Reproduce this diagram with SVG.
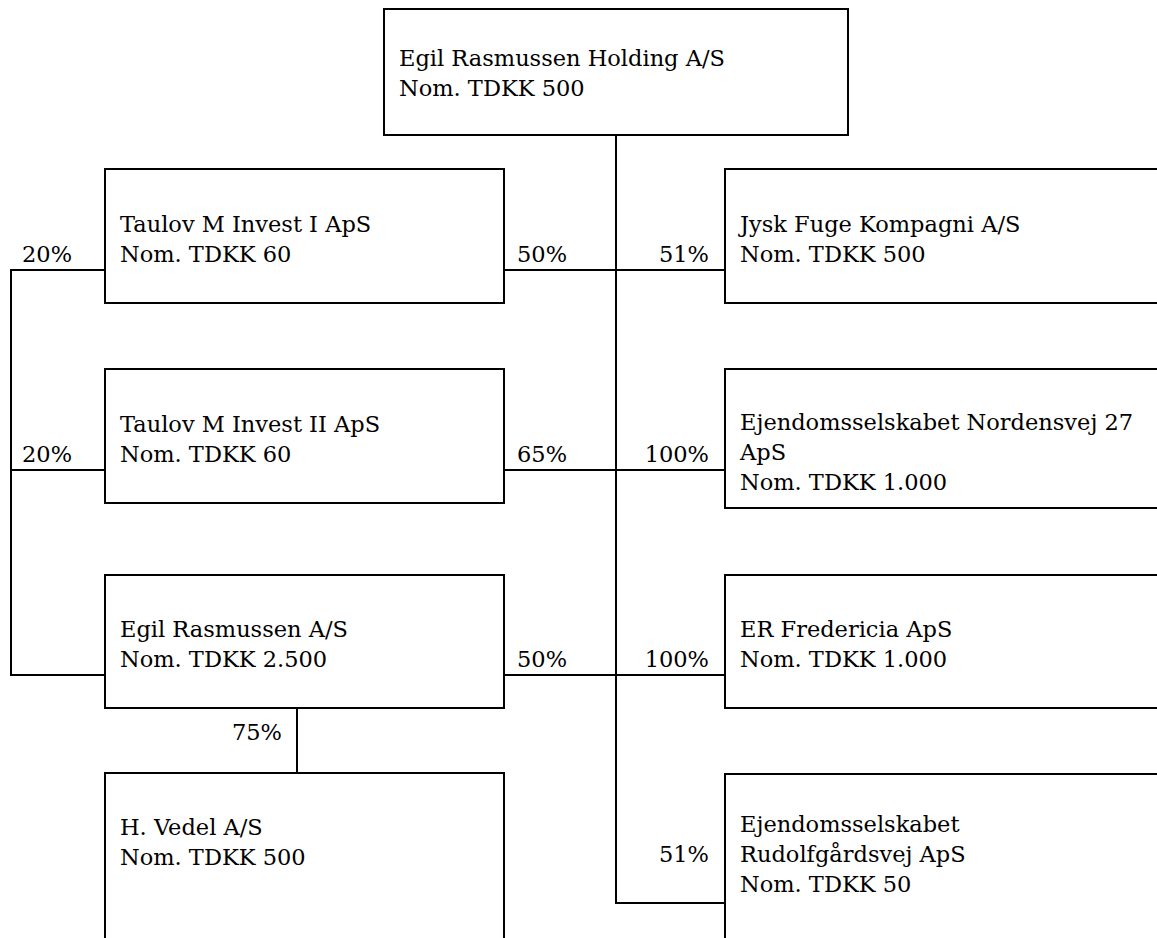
<svg xmlns="http://www.w3.org/2000/svg" width="1157" height="938" viewBox="0 0 1157 938">
<style>
.box{fill:#fff;stroke:#000;stroke-width:2}
.t{font-family:"DejaVu Serif","Liberation Serif",serif;font-size:22.5px;fill:#000}
.r{text-anchor:end}
.c{fill:none;stroke:#000;stroke-width:2}
</style>
<rect width="1157" height="938" fill="#fff"/>
<g id="connectors">
<path class="c" d="M616,135 V903 H725"/>
<path class="c" d="M504,270 H725 M504,470 H725 M504,675 H725"/>
<path class="c" d="M105,270 H11 V675 H105 M11,470 H105"/>
<path class="c" d="M297,708 V773"/>
<text class="t" x="22" y="262">20%</text>
<text class="t" x="22" y="462">20%</text>
<text class="t" x="517" y="262">50%</text>
<text class="t" x="517" y="462">65%</text>
<text class="t" x="517" y="667">50%</text>
<text class="t r" x="709" y="262">51%</text>
<text class="t r" x="709" y="462">100%</text>
<text class="t r" x="709" y="667">100%</text>
<text class="t r" x="709" y="862">51%</text>
<text class="t r" x="282" y="740">75%</text>
</g>
<g id="holding">
<rect class="box" x="384" y="9" width="464" height="126"/>
<text class="t" x="399" y="66">Egil Rasmussen Holding A/S</text>
<text class="t" x="399" y="96">Nom. TDKK 500</text>
</g>
<g id="taulov1">
<rect class="box" x="105" y="169" width="399" height="134"/>
<text class="t" x="120" y="232">Taulov M Invest I ApS</text>
<text class="t" x="120" y="262">Nom. TDKK 60</text>
</g>
<g id="taulov2">
<rect class="box" x="105" y="369" width="399" height="134"/>
<text class="t" x="120" y="432">Taulov M Invest II ApS</text>
<text class="t" x="120" y="462">Nom. TDKK 60</text>
</g>
<g id="egilas">
<rect class="box" x="105" y="575" width="399" height="133"/>
<text class="t" x="120" y="637">Egil Rasmussen A/S</text>
<text class="t" x="120" y="667">Nom. TDKK 2.500</text>
</g>
<g id="vedel">
<rect class="box" x="105" y="773" width="399" height="180"/>
<text class="t" x="120" y="835">H. Vedel A/S</text>
<text class="t" x="120" y="865">Nom. TDKK 500</text>
</g>
<g id="jysk">
<rect class="box" x="725" y="169" width="450" height="134"/>
<text class="t" x="740" y="232">Jysk Fuge Kompagni A/S</text>
<text class="t" x="740" y="262">Nom. TDKK 500</text>
</g>
<g id="nordensvej">
<rect class="box" x="725" y="369" width="450" height="139"/>
<text class="t" x="740" y="430">Ejendomsselskabet Nordensvej 27</text>
<text class="t" x="740" y="460">ApS</text>
<text class="t" x="740" y="490">Nom. TDKK 1.000</text>
</g>
<g id="fredericia">
<rect class="box" x="725" y="575" width="450" height="133"/>
<text class="t" x="740" y="637">ER Fredericia ApS</text>
<text class="t" x="740" y="667">Nom. TDKK 1.000</text>
</g>
<g id="rudolf">
<rect class="box" x="725" y="774" width="450" height="180"/>
<text class="t" x="740" y="832">Ejendomsselskabet</text>
<text class="t" x="740" y="862">Rudolfgårdsvej ApS</text>
<text class="t" x="740" y="892">Nom. TDKK 50</text>
</g>
</svg>
